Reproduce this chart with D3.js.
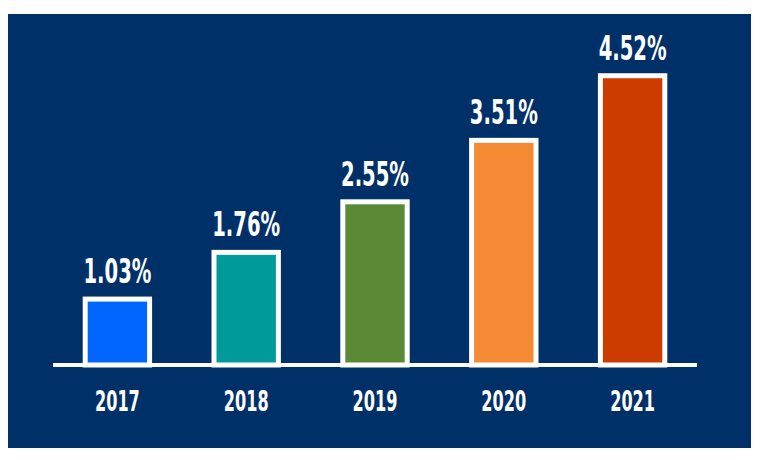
<!DOCTYPE html>
<html>
<head>
<meta charset="utf-8">
<script src="https://cdn.jsdelivr.net/npm/d3@7"></script>
<style>
  html, body { margin: 0; padding: 0; background: #ffffff; }
  svg { display: block; }
  text { font-family: "DejaVu Sans Condensed", "Liberation Sans Narrow", sans-serif; fill: #ffffff; }
</style>
</head>
<body>
<svg id="chart" width="770" height="460"></svg>
<script>
const categories = ["2017", "2018", "2019", "2020", "2021"];
const values = [1.03, 1.76, 2.55, 3.51, 4.52];
const valueLabels = ["1.03%", "1.76%", "2.55%", "3.51%", "4.52%"];
const colors = ["#0066fe", "#009a9a", "#5a8a36", "#f58a34", "#cc3b00"];

const svg = d3.select("#chart");

svg.append("rect")
  .attr("x", 8).attr("y", 14)
  .attr("width", 743).attr("height", 434)
  .attr("fill", "#003068");

const x = d3.scaleBand().domain(categories).range([53, 697]).padding(0);
const y = d3.scaleLinear().domain([0, 5]).range([365, 45]);
const barW = x.bandwidth() * 0.5;

const data = categories.map((c, i) => ({ c, v: values[i], label: valueLabels[i], color: colors[i] }));

svg.selectAll("rect.bar").data(data).enter().append("rect")
  .attr("class", "bar")
  .attr("x", d => x(d.c) + x.bandwidth() / 2 - barW / 2)
  .attr("y", d => y(d.v))
  .attr("width", barW)
  .attr("height", d => y(0) - y(d.v))
  .attr("fill", d => d.color)
  .attr("stroke", "#ffffff")
  .attr("stroke-width", 5);

// baseline
svg.append("line")
  .attr("x1", x.range()[0]).attr("x2", x.range()[1])
  .attr("y1", y(0)).attr("y2", y(0))
  .attr("stroke", "#ffffff").attr("stroke-width", 4);

// value labels
svg.selectAll("text.val").data(data).enter().append("text")
  .attr("class", "val")
  .attr("text-anchor", "middle")
  .attr("transform", d => `translate(${x(d.c) + x.bandwidth() / 2},${y(d.v) - 16}) scale(0.66,1)`)
  .attr("font-size", 33)
  .attr("font-weight", "bold")
  .text(d => d.label);

// x axis labels
const xAxis = d3.axisBottom(x).tickSize(0).tickPadding(0);
const gx = svg.append("g").attr("transform", `translate(0,${y(0)})`).call(xAxis);
gx.select(".domain").remove();
gx.selectAll(".tick text")
  .attr("y", 0).attr("dy", 0)
  .attr("transform", "translate(0,46) scale(0.64,1)")
  .attr("font-size", 28)
  .attr("font-weight", "bold")
  .attr("fill", "#ffffff")
  .style("font-family", "'DejaVu Sans Condensed', 'Liberation Sans Narrow', sans-serif");
</script>
</body>
</html>
